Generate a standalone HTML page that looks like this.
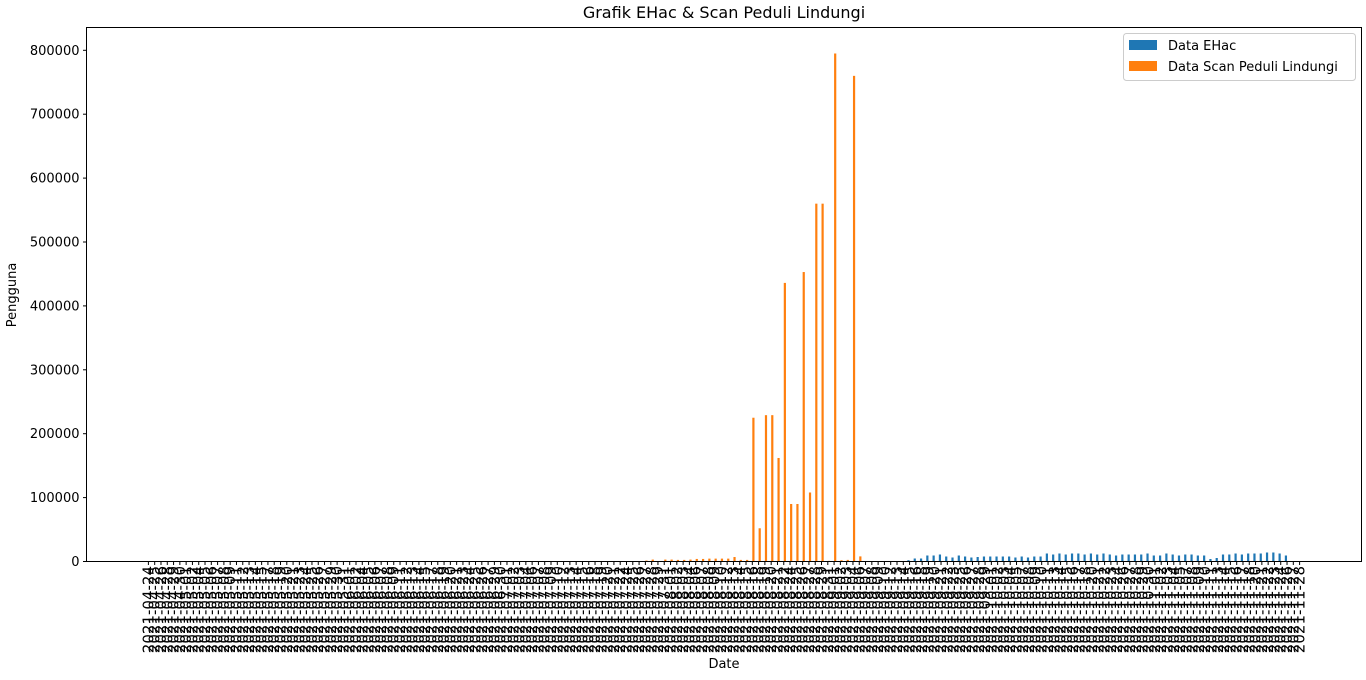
<!DOCTYPE html>
<html><head><meta charset="utf-8">
<style>
html,body{margin:0;padding:0;background:#fff;}
svg text{font-family:"DejaVu Sans","Liberation Sans",sans-serif;fill:#000;}
</style></head>
<body>
<svg id="chart" width="1366" height="675" xmlns="http://www.w3.org/2000/svg">
<text x="724" y="18" font-size="16" text-anchor="middle">Grafik EHac &amp; Scan Peduli Lindungi</text>
<text transform="translate(16,295) rotate(-90)" font-size="13" text-anchor="middle">Pengguna</text>
<text x="724" y="668" font-size="13" text-anchor="middle">Date</text>
<g id="bars"></g>
<g id="xticks"></g>
<g id="yticks"></g>
<rect x="86.5" y="27.5" width="1275" height="534" fill="none" stroke="#000" stroke-width="1"/>
<g>
<rect x="1123.5" y="33.5" width="232" height="47" rx="3" fill="#fff" fill-opacity="0.8" stroke="#ccc"/>
<rect x="1129" y="40" width="28" height="10" fill="#1f77b4"/>
<text x="1168" y="50" font-size="13">Data EHac</text>
<rect x="1129" y="61" width="28" height="10" fill="#ff7f0e"/>
<text x="1168" y="71" font-size="13">Data Scan Peduli Lindungi</text>
</g>
</svg>
<script>
const NCAT = 184;
const startDate = "2021-04-24";
const endDate = "2021-11-28";
const yTicks = [0,100000,200000,300000,400000,500000,600000,700000,800000];
const scanStart = 79;
const scan = [1500,3000,0,3000,3000,2500,2500,3000,4000,4000,4500,4500,4500,4500,7000,2500,2500,225000,52000,229000,229000,162000,436000,90000,90000,453000,108000,560000,560000,1000,795000,2000,2500,760000,8000];
const ehacStart = 121;
const ehacPx = [1.3,3,3,6,6,7,5,4,6,5,4,4.5,5,5,5,5,5,4,5,4,5,5,8,7,8,7,8,8,7,8,7,8,7,6,7,7,7,7,8,6,6,8,7,6,7,7,6,6,2.5,3.5,7,7,8,7,8,8,8,9,9,8,6];
const ehac = ehacPx.map(p=>Math.round(p*1565));

const NS="http://www.w3.org/2000/svg";
const X0=86.5, X1=1361.5, Y0=561.5, Y1=27.5;
const dMin=-9.84, dMax=(NCAT-1)+9.84;
function xs(i){return X0+(i-dMin)/(dMax-dMin)*(X1-X0);}
function ys(v){return Y0-v/800000*(561.5-50.3);}
const bw=2.2;
function mk(tag,attrs,parent){const e=document.createElementNS(NS,tag);for(const k in attrs)e.setAttribute(k,attrs[k]);parent.appendChild(e);return e;}
const bars=document.getElementById('bars');
ehac.forEach((v,k)=>{const i=ehacStart+k;
 const r=mk('rect',{x:xs(i)-bw,y:ys(v),width:bw,height:Y0-ys(v),fill:'#1f77b4'},bars);
 
 });
scan.forEach((v,k)=>{const i=scanStart+k;
 const r=mk('rect',{x:xs(i),y:ys(v),width:bw,height:Y0-ys(v),fill:'#ff7f0e'},bars);
 
 });
const yt=document.getElementById('yticks');
yTicks.forEach(v=>{const y=ys(v);
 mk('line',{x1:X0-3.5,x2:X0,y1:y,y2:y,stroke:'#000'},yt);
 const t=mk('text',{x:X0-7,y:y+4.5,'font-size':13,'text-anchor':'end'},yt);
 
 
 t.textContent=String(v);});
const xt=document.getElementById('xticks');
const s=new Date(startDate+"T00:00:00Z").getTime(), e=new Date(endDate+"T00:00:00Z").getTime();
for(let i=0;i<NCAT;i++){const x=xs(i);
 mk('line',{x1:x,x2:x,y1:Y0,y2:Y0+3.5,stroke:'#000'},xt);
 const d=new Date(s+Math.round((e-s)/86400000*i/(NCAT-1))*86400000).toISOString().slice(0,10);
 const t=mk('text',{transform:`translate(${x+5},566) rotate(-90)`,'font-size':15,'text-anchor':'end'},xt);
 
 
 t.textContent=d;}
</script>
</body></html>
